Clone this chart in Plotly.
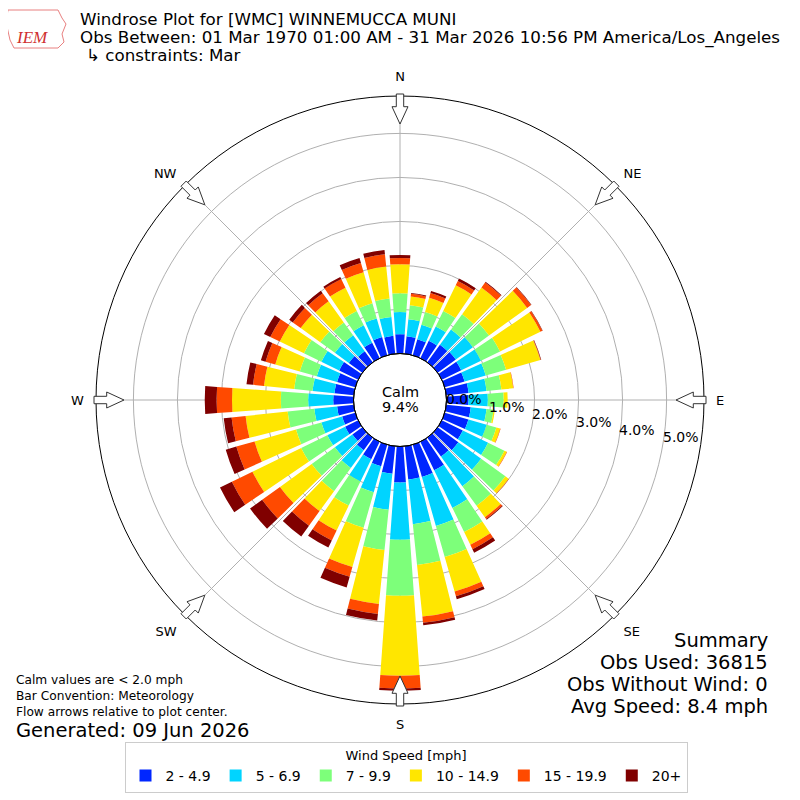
import math
import plotly.graph_objects as go

# wind direction bins (deg, met convention) and frequency [%] per speed bin
directions = list(range(0, 360, 10))
speed_bins = ["2 - 4.9", "5 - 6.9", "7 - 9.9", "10 - 14.9", "15 - 19.9", "20+"]
bin_colors = ["#0026ff", "#00d4ff", "#7dff7a", "#ffe600", "#ff4a00", "#800000"]

spd_2_5 = [0.44, 0.40, 0.38, 0.44, 0.49, 0.51, 0.49, 0.47, 0.51, 0.50, 0.56, 0.56,
           0.53, 0.58, 0.53, 0.72, 0.76, 0.76, 0.82, 0.63, 0.51, 0.44, 0.35, 0.28,
           0.33, 0.31, 0.38, 0.46, 0.44, 0.43, 0.48, 0.38, 0.31, 0.39, 0.43, 0.41]
spd_5_7 = [0.50, 0.39, 0.34, 0.36, 0.43, 0.48, 0.50, 0.50, 0.41, 0.44, 0.36, 0.43,
           0.64, 0.64, 0.83, 0.95, 1.16, 1.02, 1.30, 0.82, 0.61, 0.56, 0.50, 0.49,
           0.45, 0.49, 0.52, 0.57, 0.50, 0.48, 0.45, 0.39, 0.45, 0.44, 0.44, 0.43]
spd_7_10 = [0.43, 0.32, 0.30, 0.39, 0.43, 0.45, 0.48, 0.48, 0.34, 0.36, 0.16, 0.23,
            0.41, 0.68, 0.55, 0.61, 0.73, 0.93, 1.27, 0.92, 0.84, 0.61, 0.65, 0.65,
            0.66, 0.60, 0.61, 0.62, 0.42, 0.40, 0.44, 0.41, 0.36, 0.36, 0.36, 0.42]
spd_10_15 = [0.66, 0.20, 0.34, 0.65, 0.75, 1.07, 1.02, 0.81, 0.27, 0.09, 0.03, 0.09,
             0.06, 0.09, 0.32, 0.32, 0.82, 1.18, 1.82, 1.23, 0.93, 0.63, 0.56, 0.89,
             1.23, 0.98, 0.96, 1.11, 0.69, 0.58, 0.61, 0.55, 0.59, 0.59, 0.73, 0.73]
spd_15_20 = [0.14, 0.06, 0.11, 0.11, 0.14, 0.11, 0.05, 0.01, 0.01, 0.00, 0.00, 0.01,
             0.01, 0.01, 0.05, 0.11, 0.11, 0.14, 0.29, 0.23, 0.23, 0.25, 0.41, 0.50,
             0.52, 0.43, 0.32, 0.35, 0.25, 0.23, 0.24, 0.22, 0.23, 0.22, 0.22, 0.28]
spd_20_up = [0.07, 0.02, 0.05, 0.06, 0.02, 0.01, 0.01, 0.01, 0.00, 0.00, 0.00, 0.00,
             0.00, 0.00, 0.02, 0.09, 0.07, 0.06, 0.05, 0.15, 0.25, 0.18, 0.30, 0.34,
             0.30, 0.25, 0.18, 0.27, 0.15, 0.11, 0.16, 0.10, 0.07, 0.05, 0.12, 0.10]

radial_ticks = [0, 1, 2, 3, 4, 5]
compass_deg = [0, 45, 90, 135, 180, 225, 270, 315]
compass_lbl = ["N", "NE", "E", "SE", "S", "SW", "W", "NW"]

W = H = 800
OFF = 8          # page body margin of the browser
CX, CY = 400, 400
R_OUT = 304
R_HOLE = 46.5
RMAX = 5.85
SCALE = (R_OUT - R_HOLE) / RMAX   # px per percent

series = [spd_2_5, spd_5_7, spd_7_10, spd_10_15, spd_15_20, spd_20_up]

fig = go.Figure()
for name, vals, col in zip(speed_bins, series, bin_colors):
    fig.add_trace(go.Barpolar(
        r=vals, theta=directions, width=8.2, name=name,
        marker=dict(color=col, line=dict(width=0)),
        hoverinfo="skip",
    ))


def px2paper(x, y):
    # screen pixel -> paper coords
    return (x - OFF) / W, 1 - (y - OFF) / H


# flow arrows (hollow, pointing to centre) at the compass points
shapes = []
for d in compass_deg:
    a = math.radians(d)
    pts = [(276, 0), (293.3, 8), (293.3, 3.7), (306, 3.7),
           (306, -3.7), (293.3, -3.7), (293.3, -8)]
    path = ""
    for i, (u, v) in enumerate(pts):
        x = CX + u * math.sin(a) + v * math.cos(a)
        y = CY - u * math.cos(a) + v * math.sin(a)
        xp, yp = px2paper(x, y)
        path += ("M" if i == 0 else "L") + f"{xp:.5f},{yp:.5f} "
    path += "Z"
    shapes.append(dict(type="path", path=path, xref="paper", yref="paper",
                       fillcolor="white", line=dict(color="#333333", width=1)))

# calm circle outline
x0, y0 = px2paper(CX - R_HOLE, CY + R_HOLE)
x1, y1 = px2paper(CX + R_HOLE, CY - R_HOLE)
shapes.append(dict(type="circle", xref="paper", yref="paper", x0=x0, y0=y0,
                   x1=x1, y1=y1, line=dict(color="black", width=1)))

# rough IEM logo outline
logo = [(8, 10), (58, 10), (62, 18), (66, 24), (62, 34), (64, 42), (58, 48), (14, 48), (10, 40), (6, 22)]
lp = "".join(("M" if i == 0 else "L") + "%.5f,%.5f " % px2paper(x, y) for i, (x, y) in enumerate(logo)) + "Z"
shapes.append(dict(type="path", path=lp, xref="paper", yref="paper",
                   line=dict(color="#e88080", width=1)))

font = "DejaVu Sans"


def note(text, x, y, size, anchor="left", vanchor="middle"):
    xp, yp = px2paper(x, y)
    return dict(text=text, x=xp, y=yp, xref="paper", yref="paper", showarrow=False,
                xanchor=anchor, yanchor=vanchor, font=dict(family=font, size=size, color="black"))


annotations = [
    note("Windrose Plot for [WMC] WINNEMUCCA MUNI", 78, 19, 16.7),
    note("Obs Between: 01 Mar 1970 01:00 AM - 31 Mar 2026 10:56 PM America/Los_Angeles", 78, 37, 16.7),
    note("↳ constraints: Mar", 84, 55, 16.7),
    note("Calm values are &lt; 2.0 mph", 14, 680, 12.2),
    note("Bar Convention: Meteorology", 14, 696, 12.2),
    note("Flow arrows relative to plot center.", 14, 712, 12.2),
    note("Generated: 09 Jun 2026", 14, 730, 19.5),
    note("Summary", 770, 640, 19.5, "right"),
    note("Obs Used: 36815", 770, 662, 19.5, "right"),
    note("Obs Without Wind: 0", 770, 684, 19.5, "right"),
    note("Avg Speed: 8.4 mph", 770, 706, 19.5, "right"),
    note("Calm", 400, 392, 14.5, "center"),
    note("9.4%", 400, 407, 14.5, "center"),
]
# radial labels, horizontal, starting at each ring along a line 10 deg below east
for v in radial_ticks:
    rr = R_HOLE + v * SCALE
    lx = CX + rr * math.cos(math.radians(10))
    ly = CY + rr * math.sin(math.radians(10))
    annotations.append(note(f"{v:.1f}%", lx - 2, ly + 1, 14, "left", "bottom"))

iem = note("<i>IEM</i>", 32, 38, 17, "center")
iem["font"] = dict(family="Liberation Serif", size=17, color="#d03030")
annotations.append(iem)

px0, py1 = px2paper(CX - R_OUT, CY - R_OUT)
px1, py0 = px2paper(CX + R_OUT, CY + R_OUT)
fig.update_layout(
    width=W, height=H,
    margin=dict(l=0, r=0, t=0, b=0),
    paper_bgcolor="white",
    font=dict(family=font, size=13, color="black"),
    polar=dict(
        domain=dict(x=[px0, px1], y=[py0, py1]),
        bgcolor="white",
        hole=R_HOLE / R_OUT,
        barmode="stack",
        angularaxis=dict(
            direction="clockwise", rotation=90,
            tickvals=compass_deg, ticktext=compass_lbl,
            tickfont=dict(size=13), ticks="outside", ticklen=9,
            tickcolor="rgba(0,0,0,0)",
            showline=True, linecolor="black", linewidth=1,
            gridcolor="#b0b0b0", gridwidth=1, layer="above traces",
        ),
        radialaxis=dict(
            range=[0, RMAX], tickvals=radial_ticks, showticklabels=False,
            ticks="", angle=-10,
            showline=False, gridcolor="#b0b0b0", gridwidth=1,
            layer="above traces",
        ),
    ),
    legend=dict(
        orientation="h", x=0.5 - (OFF - 6) / W, xanchor="center", y=1 - (742 - OFF) / H, yanchor="top",
        title=dict(text="Wind Speed [mph]", side="top center", font=dict(size=13)),
        font=dict(size=14), bordercolor="#cccccc", borderwidth=1,
    ),
    shapes=shapes,
    annotations=annotations,
)

fig.write_html("out.html")
